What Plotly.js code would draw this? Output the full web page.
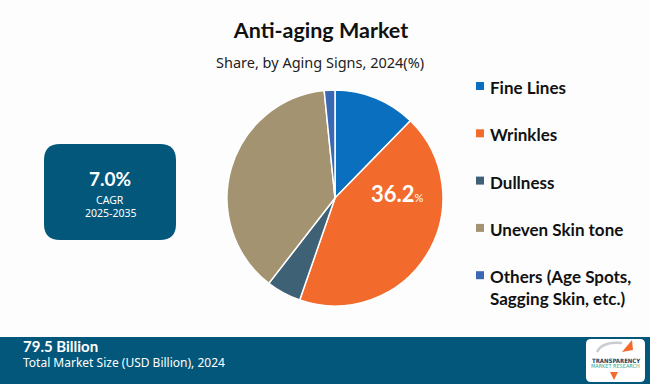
<!DOCTYPE html>
<html>
<head>
<meta charset="utf-8">
<script src="https://cdn.plot.ly/plotly-3.0.1.min.js"></script>
<style>
  html, body { margin: 0; padding: 0; background: #fdfdfd; }
  #chart { width: 650px; height: 384px; }
</style>
</head>
<body>
<div id="chart"></div>
<script>
// ---- data ----
const categories = ['Fine Lines', 'Wrinkles', 'Dullness', 'Uneven Skin tone', 'Others (Age Spots,<br>Sagging Skin, etc.)'];
const shares = [12.3, 43.0, 5.2, 37.9, 1.6];
const sliceLabels = ['', '36.2', '', '', ''];
const colors = ['#0b6fc0', '#f26b2c', '#3e6176', '#a39371', '#3b68b3'];
const chartTitle = 'Anti-aging Market';
const chartSubtitle = 'Share, by Aging Signs, 2024(%)';
const cagrValue = '7.0%';
const cagrLabel = 'CAGR';
const cagrPeriod = '2025-2035';
const marketSize = '79.5 Billion';
const marketSizeLabel = 'Total Market Size (USD Billion), 2024';

// ---- layout helpers ----
const W = 650, H = 384;
const px = x => x / W;
const py = y => 1 - y / H;

// rounded rectangle path in paper units, from pixel box
function roundRect(x0, y0, x1, y1, r) {
  const X = v => px(v).toFixed(5), Y = v => py(v).toFixed(5);
  return 'M' + X(x0 + r) + ',' + Y(y0) +
    ' L' + X(x1 - r) + ',' + Y(y0) +
    ' Q' + X(x1) + ',' + Y(y0) + ' ' + X(x1) + ',' + Y(y0 + r) +
    ' L' + X(x1) + ',' + Y(y1 - r) +
    ' Q' + X(x1) + ',' + Y(y1) + ' ' + X(x1 - r) + ',' + Y(y1) +
    ' L' + X(x0 + r) + ',' + Y(y1) +
    ' Q' + X(x0) + ',' + Y(y1) + ' ' + X(x0) + ',' + Y(y1 - r) +
    ' L' + X(x0) + ',' + Y(y0 + r) +
    ' Q' + X(x0) + ',' + Y(y0) + ' ' + X(x0 + r) + ',' + Y(y0) + ' Z';
}

const trace = {
  type: 'pie',
  labels: categories,
  values: shares,
  textinfo: 'none',
  sort: false,
  direction: 'clockwise',
  rotation: 0,
  marker: { colors: colors, line: { color: '#ffffff', width: 1.5 } },
  domain: { x: [px(227), px(443)], y: [py(306), py(90)] },
  showlegend: false,
  hoverinfo: 'label+value'
};

const shapes = [];
const annotations = [];

// subtitle
annotations.push({
  text: chartSubtitle, x: px(320), y: py(62), xref: 'paper', yref: 'paper',
  xanchor: 'center', yanchor: 'middle', showarrow: false,
  font: { family: 'Noto Sans, sans-serif', size: 14.5, color: '#222222' }
});

// slice value label (Wrinkles)
sliceLabels.forEach((v, i) => {
  if (!v) return;
  annotations.push({
    text: '<b>' + v + '</b><span style="font-size:11px">%</span>',
    x: px(397), y: py(193), xref: 'paper', yref: 'paper',
    xanchor: 'center', yanchor: 'middle', showarrow: false,
    font: { family: 'Lato, sans-serif', size: 22, color: '#ffffff' }
  });
});

// manual legend
const legTop = 86, legStep = 47.3;
categories.forEach((c, i) => {
  const yc = legTop + i * legStep;
  shapes.push({
    type: 'rect', xref: 'paper', yref: 'paper',
    x0: px(476), x1: px(484), y0: py(yc - 4), y1: py(yc + 4),
    fillcolor: colors[i], line: { width: 0 }
  });
  annotations.push({
    text: '<b>' + c + '</b>', x: px(488), y: py(yc - 11), xref: 'paper', yref: 'paper',
    xanchor: 'left', yanchor: 'top', align: 'left', showarrow: false,
    font: { family: 'Lato, sans-serif', size: 17, color: '#111111' }
  });
});

// CAGR box
shapes.push({
  type: 'path', xref: 'paper', yref: 'paper', layer: 'below',
  path: roundRect(44, 144, 176, 240, 16),
  fillcolor: '#03577a', line: { width: 0 }
});
annotations.push(
  { text: '<b>' + cagrValue + '</b>', x: px(110), y: py(178), xref: 'paper', yref: 'paper',
    xanchor: 'center', yanchor: 'middle', showarrow: false,
    font: { family: 'Lato, sans-serif', size: 19, color: '#ffffff' } },
  { text: cagrLabel, x: px(110), y: py(200), xref: 'paper', yref: 'paper',
    xanchor: 'center', yanchor: 'middle', showarrow: false,
    font: { family: 'Noto Sans, sans-serif', size: 10.5, color: '#ffffff' } },
  { text: cagrPeriod, x: px(110), y: py(213), xref: 'paper', yref: 'paper',
    xanchor: 'center', yanchor: 'middle', showarrow: false,
    font: { family: 'Noto Sans, sans-serif', size: 10.5, color: '#ffffff' } }
);

// bottom banner
shapes.push({
  type: 'rect', xref: 'paper', yref: 'paper', layer: 'below',
  x0: 0, x1: 1, y0: 0, y1: py(337), fillcolor: '#03577a', line: { width: 0 }
});
// logo card
shapes.push({
  type: 'path', xref: 'paper', yref: 'paper', layer: 'above',
  path: roundRect(586, 339, 645, 382, 5),
  fillcolor: '#ffffff', line: { width: 0 }
});
shapes.push({
  type: 'path', xref: 'paper', yref: 'paper', layer: 'above',
  path: 'M' + px(597) + ',' + py(352) + ' Q' + px(602) + ',' + py(341) + ' ' + px(622) + ',' + py(343),
  line: { color: '#c9ccd0', width: 2.5 }
});
shapes.push({
  type: 'path', xref: 'paper', yref: 'paper', layer: 'above',
  path: 'M' + px(622) + ',' + py(352) + ' L' + px(632) + ',' + py(340) + ' L' + px(633) + ',' + py(350) + ' Z',
  fillcolor: '#f26b2c', line: { width: 0 }
});
shapes.push({
  type: 'path', xref: 'paper', yref: 'paper', layer: 'above',
  path: 'M' + px(610) + ',' + py(372) + ' L' + px(614) + ',' + py(380) + ' L' + px(618) + ',' + py(372) + ' Z',
  fillcolor: '#f26b2c', line: { width: 0 }
});
annotations.push(
  { text: '<b>' + marketSize + '</b>', x: px(22), y: py(345.5), xref: 'paper', yref: 'paper',
    xanchor: 'left', yanchor: 'middle', showarrow: false, borderpad: 0,
    font: { family: 'Lato, sans-serif', size: 15, color: '#ffffff' } },
  { text: marketSizeLabel, x: px(22), y: py(362), xref: 'paper', yref: 'paper',
    xanchor: 'left', yanchor: 'middle', showarrow: false, borderpad: 0,
    font: { family: 'Noto Sans, sans-serif', size: 12, color: '#ffffff' } },
  { text: '<b>TRANSPARENCY</b>', x: px(615.5), y: py(360), xref: 'paper', yref: 'paper',
    xanchor: 'center', yanchor: 'middle', showarrow: false,
    font: { family: 'DejaVu Sans Condensed, sans-serif', size: 6, color: '#1d3f5e' } },
  { text: 'MARKET RESEARCH', x: px(615.5), y: py(366), xref: 'paper', yref: 'paper',
    xanchor: 'center', yanchor: 'middle', showarrow: false,
    font: { family: 'DejaVu Sans Condensed, sans-serif', size: 5.5, color: '#3aa58a' } }
);

const layout = {
  width: W, height: H,
  margin: { l: 0, r: 0, t: 0, b: 0 },
  paper_bgcolor: '#fdfdfd',
  plot_bgcolor: '#fdfdfd',
  title: {
    text: '<b>' + chartTitle + '</b>',
    x: px(321), xanchor: 'center', y: py(30), yanchor: 'middle',
    font: { family: 'Lato, sans-serif', size: 21.5, color: '#111111' }
  },
  shapes: shapes,
  annotations: annotations
};

Plotly.newPlot('chart', [trace], layout, { displayModeBar: false, staticPlot: true });
</script>
</body>
</html>
